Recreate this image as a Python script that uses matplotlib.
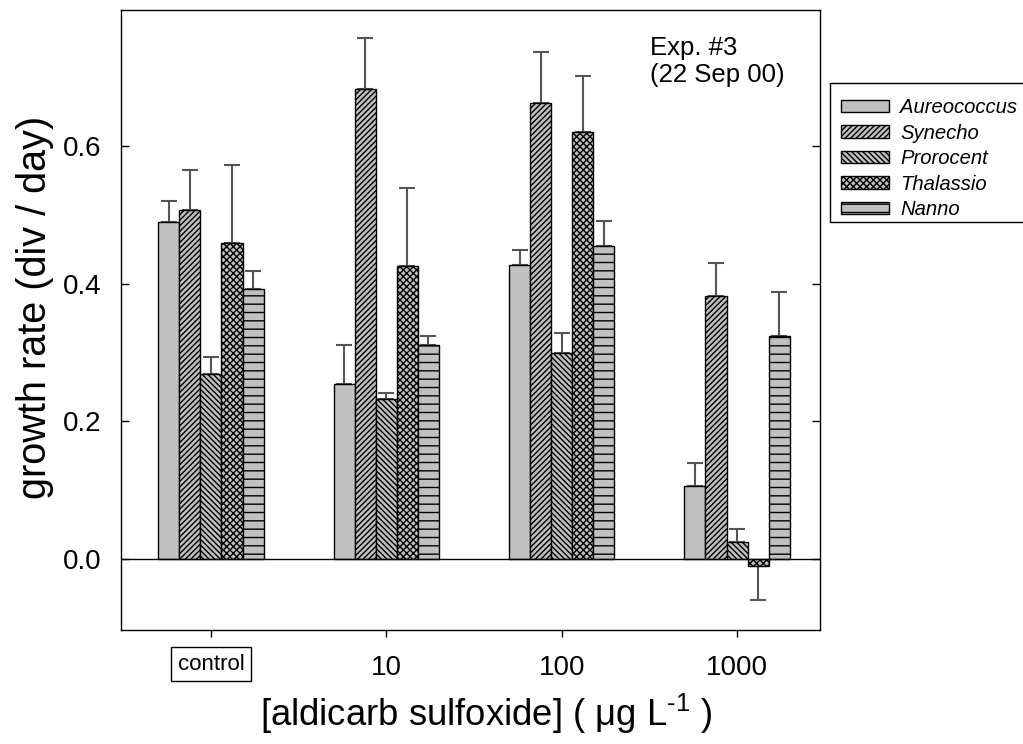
import matplotlib
matplotlib.use("Agg")
import matplotlib.pyplot as plt
from matplotlib.patches import Rectangle
import numpy as np

plt.rcParams['font.family'] = ['Liberation Sans', 'DejaVu Sans']
plt.rcParams['hatch.linewidth'] = 1.0
plt.rcParams['mathtext.fontset'] = 'custom'
plt.rcParams['mathtext.rm'] = 'Liberation Sans'
plt.rcParams['mathtext.it'] = 'Liberation Sans:italic'

categories = ["control", "10", "100", "1000"]
species = ["Aureococcus", "Synecho", "Prorocent", "Thalassio", "Nanno"]

aureococcus = [0.490, 0.254, 0.427, 0.106]
synecho     = [0.508, 0.683, 0.663, 0.383]
prorocent   = [0.269, 0.233, 0.299, 0.025]
thalassio   = [0.460, 0.426, 0.621, -0.010]
nanno       = [0.393, 0.311, 0.455, 0.324]

aureococcus_err = [0.031, 0.057, 0.023, 0.034]
synecho_err     = [0.057, 0.075, 0.075, 0.047]
prorocent_err   = [0.024, 0.009, 0.029, 0.018]
thalassio_err   = [0.113, 0.114, 0.082, 0.050]
nanno_err       = [0.026, 0.013, 0.036, 0.064]

values = [aureococcus, synecho, prorocent, thalassio, nanno]
errors = [aureococcus_err, synecho_err, prorocent_err, thalassio_err, nanno_err]
hatches = ["", "//////", "\\\\\\\\\\\\", "xxxxx", "--"]

fig = plt.figure(figsize=(10.23, 7.44), dpi=100)
ax = fig.add_axes([121/1023, 1-630/744, (820-121)/1023, (630-10)/744])

x = np.arange(len(categories))
w = 0.12
for i, (vals, errs, h, name) in enumerate(zip(values, errors, hatches, species)):
    xs = x + (i - 2) * w
    ax.bar(xs, vals, width=w, color='#c0c0c0', edgecolor='black', linewidth=1.0,
           hatch=h, label=name, zorder=2)
    vals = np.array(vals); errs = np.array(errs)
    lower = np.where(vals < 0, errs, 0)
    upper = np.where(vals >= 0, errs, 0)
    ax.errorbar(xs, vals, yerr=[lower, upper], fmt='none', ecolor='#555555',
                elinewidth=1.5, capsize=6, capthick=1.5, zorder=1)

ax.axhline(0, color='black', linewidth=1.0, zorder=3)
ax.set_xlim(-0.513, 3.473)
ax.set_ylim(-0.1035, 0.7985)
ax.set_yticks([0.0, 0.2, 0.4, 0.6])
ax.set_yticklabels(["0.0", "0.2", "0.4", "0.6"], fontsize=20)
ax.yaxis.set_ticks_position('both')
ax.tick_params(axis='y', direction='in', length=6, width=1, pad=14)
ax.set_xticks(x)
ax.set_xticklabels(["", "10", "100", "1000"], fontsize=20)
ax.tick_params(axis='x', direction='out', length=5, width=1, pad=13)
for s in ax.spines.values():
    s.set_linewidth(1.0)

ax.text(0, -0.153, "control", fontsize=16, ha='center', va='center',
        bbox=dict(boxstyle='square,pad=0.3', facecolor='white', edgecolor='black', linewidth=1))

ax.set_ylabel("growth rate (div / day)", fontsize=28.5)
ax.yaxis.set_label_coords(54/1023, 1-307/744, transform=fig.transFigure)
ax.set_xlabel(r"[aldicarb sulfoxide] ( μg L$^{\text{-1}}$ )", fontsize=26.3)
ax.xaxis.set_label_coords(486/1023, 1-692/744, transform=fig.transFigure)

ax.text(650/1023, 1-36/744, "Exp. #3\n(22 Sep 00)", transform=fig.transFigure,
        fontsize=18.5, ha='left', va='top', linespacing=1.15)

leg = fig.legend(loc='upper left', bbox_to_anchor=(830/1023, 1-87/744),
                 prop={'style': 'italic', 'size': 14.6},
                 frameon=False,
                 handlelength=2.35, handleheight=0.55, labelspacing=0.32,
                 handletextpad=0.55, borderpad=0.55, borderaxespad=0)
fig.patches.append(Rectangle((830/1023, 1-222/744), 0.3, (222-83)/744,
                             transform=fig.transFigure, fill=False,
                             edgecolor='black', linewidth=1.0))

fig.savefig("out.png", dpi=100)
